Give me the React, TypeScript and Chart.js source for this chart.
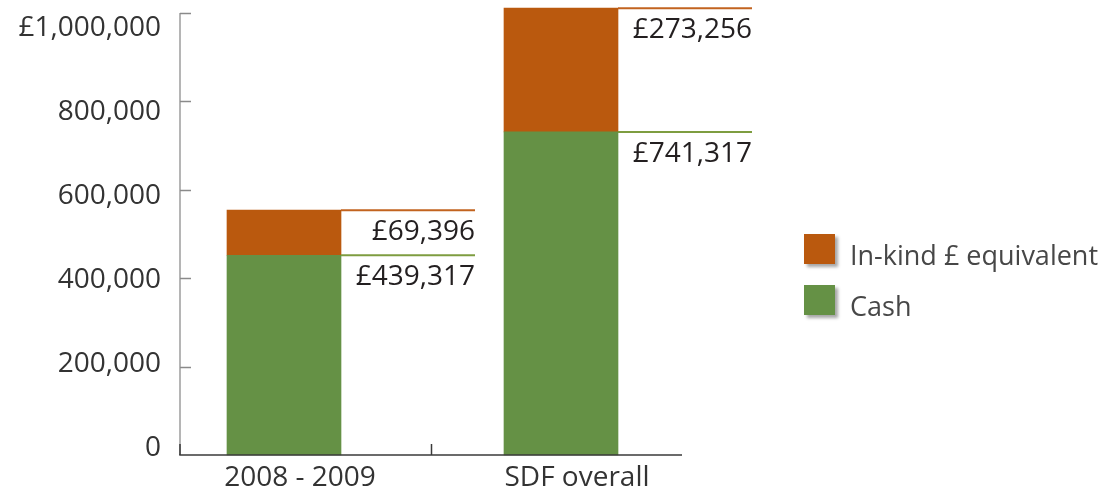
import React, { useEffect, useRef } from 'react';
import { Chart, registerables } from 'chart.js';

Chart.register(...registerables);

const categories = ['2008 - 2009', 'SDF overall'];
const seriesNames = ['Cash', 'In-kind £ equivalent'];
const cashValues = [452000, 731000];
const inKindValues = [102000, 280000];
const cashLabels = ['£439,317', '£741,317'];
const inKindLabels = ['£69,396', '£273,256'];
const yTickValues = [0, 200000, 400000, 600000, 800000, 1000000];
const yTickLabels = ['0', '200,000', '400,000', '600,000', '800,000', '£1,000,000'];

const ORANGE = '#BA590E';
const GREEN = '#659145';
const ORANGE_LINE = '#C2631F';
const GREEN_LINE = '#7E9D40';
const FONT = '"Open Sans", "DejaVu Sans", sans-serif';

const axesPlugin = {
  id: 'customAxes',
  afterDatasetsDraw(chart: any) {
    const { ctx, chartArea } = chart;
    const { left, right, top, bottom } = chartArea;
    const yScale = chart.scales.y;
    ctx.save();
    ctx.lineWidth = 1.5;
    // y axis line
    ctx.strokeStyle = '#9c9c9c';
    ctx.beginPath();
    ctx.moveTo(left, top);
    ctx.lineTo(left, bottom);
    ctx.stroke();
    // y ticks pointing inwards
    ctx.strokeStyle = '#8a8a8a';
    yTickValues.forEach((v) => {
      if (v === 0) return;
      const y = Math.round(yScale.getPixelForValue(v)) + 0.5;
      ctx.beginPath();
      ctx.moveTo(left, y);
      ctx.lineTo(left + 11, y);
      ctx.stroke();
    });
    // x axis line
    ctx.strokeStyle = '#3a3a3a';
    ctx.beginPath();
    ctx.moveTo(left - 0.75, bottom);
    ctx.lineTo(right, bottom);
    ctx.stroke();
    // x ticks
    const mid = Math.round((left + right) / 2) + 0.5;
    [left, mid].forEach((x) => {
      ctx.beginPath();
      ctx.moveTo(x, bottom - 11);
      ctx.lineTo(x, bottom);
      ctx.stroke();
    });
    ctx.restore();
  },
};

const annotatePlugin = {
  id: 'valueLines',
  afterDatasetsDraw(chart: any) {
    const { ctx } = chart;
    const lineColors = [GREEN_LINE, ORANGE_LINE];
    const labelSets = [cashLabels, inKindLabels];
    ctx.save();
    chart.data.datasets.forEach((_ds: any, di: number) => {
      const meta = chart.getDatasetMeta(di);
      meta.data.forEach((bar: any, i: number) => {
        const p = bar.getProps(['x', 'y', 'width'], true);
        const start = p.x + p.width / 2;
        const end = start + 134;
        const y = p.y;
        ctx.strokeStyle = lineColors[di];
        ctx.lineWidth = 2;
        ctx.beginPath();
        ctx.moveTo(start, y);
        ctx.lineTo(end, y);
        ctx.stroke();
        ctx.fillStyle = '#231f20';
        ctx.font = `28px ${FONT}`;
        ctx.textAlign = 'right';
        ctx.textBaseline = 'alphabetic';
        ctx.fillText(labelSets[di][i], end, y + 30);
      });
    });
    ctx.restore();
  },
};

const legendPlugin = {
  id: 'customLegend',
  afterDraw(chart: any) {
    const { ctx, chartArea } = chart;
    const items = chart.data.datasets
      .map((d: any) => ({ label: d.label, color: d.backgroundColor }))
      .reverse();
    const x0 = chartArea.right + 122;
    ctx.save();
    items.forEach((it: any, k: number) => {
      const y = 234 + k * 51;
      ctx.save();
      ctx.shadowColor = 'rgba(0,0,0,0.35)';
      ctx.shadowBlur = 3;
      ctx.shadowOffsetX = 3;
      ctx.shadowOffsetY = 3;
      ctx.fillStyle = it.color;
      ctx.fillRect(x0, y, 31, 30);
      ctx.restore();
      ctx.fillStyle = '#474747';
      ctx.font = `27px ${FONT}`;
      ctx.textAlign = 'left';
      ctx.textBaseline = 'alphabetic';
      ctx.fillText(it.label, x0 + 46, y + 31);
    });
    ctx.restore();
  },
};

export default function App() {
  const canvasRef = useRef<HTMLCanvasElement | null>(null);

  useEffect(() => {
    document.body.style.margin = '0';
    const canvas = canvasRef.current;
    if (!canvas) return;
    const chart = new Chart(canvas, {
      type: 'bar',
      data: {
        datasets: [
          {
            label: seriesNames[0],
            data: cashValues.map((v, i) => ({ x: i, y: v })),
            backgroundColor: GREEN,
            barThickness: 114,
            clip: false,
          } as any,
          {
            label: seriesNames[1],
            data: inKindValues.map((v, i) => ({ x: i, y: v })),
            backgroundColor: ORANGE,
            barThickness: 114,
            clip: false,
          } as any,
        ],
      },
      options: {
        animation: false,
        responsive: false,
        layout: { padding: { top: 13, right: 420, bottom: 0, left: 0 } },
        plugins: {
          legend: { display: false },
          tooltip: { enabled: false },
        },
        scales: {
          x: {
            type: 'linear',
            stacked: true,
            offset: false,
            bounds: 'data',
            min: -0.37545,
            max: 1.43682,
            grid: { display: false, drawTicks: false, offset: false },
            border: { display: false },
            afterBuildTicks: (scale: any) => {
              scale.ticks = categories.map((_, i) => ({ value: i }));
            },
            afterFit: (scale: any) => {
              scale.height = 36;
              scale.paddingLeft = 0;
              scale.paddingRight = 0;
            },
            ticks: {
              autoSkip: false,
              maxRotation: 0,
              labelOffset: 16,
              padding: 6,
              color: '#333333',
              font: { family: FONT, size: 28 },
              callback: (_v: any, index: number) => categories[index],
            },
          },
          y: {
            display: false,
            stacked: true,
            min: 0,
            max: 1000000,
          },
          y2: {
            position: 'left',
            min: -15458,
            max: 1035672,
            grid: { display: false, drawTicks: false },
            border: { display: false },
            afterBuildTicks: (scale: any) => {
              scale.ticks = yTickValues.map((v) => ({ value: v }));
            },
            afterFit: (scale: any) => {
              scale.width = 180;
              scale.paddingTop = 0;
              scale.paddingBottom = 0;
            },
            ticks: {
              padding: 19,
              color: '#333333',
              font: { family: FONT, size: 28, lineHeight: 0.9 },
              callback: (_v: any, index: number) => yTickLabels[index],
            },
          },
        },
      } as any,
      plugins: [axesPlugin, annotatePlugin, legendPlugin],
    });
    return () => chart.destroy();
  }, []);

  return (
    <div style={{ width: 1102, height: 491 }}>
      <canvas ref={canvasRef} width={1102} height={491} style={{ display: 'block' }} />
    </div>
  );
}
